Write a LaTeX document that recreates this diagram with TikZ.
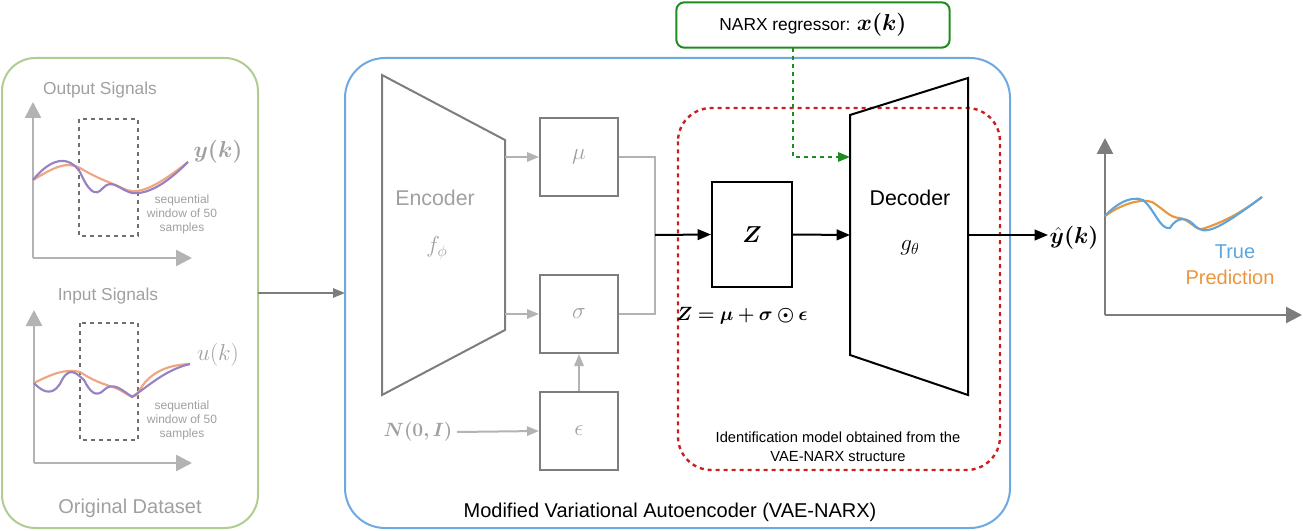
\documentclass[tikz,border=0pt]{standalone}
\usepackage{fontspec}
\setmainfont{Liberation Sans}
\usepackage{amsmath,bm}
\usetikzlibrary{arrows.meta}
\definecolor{gbox}{RGB}{175,205,145}
\definecolor{bbox}{RGB}{110,170,225}
\definecolor{gtx}{RGB}{160,160,160}
\definecolor{blk}{RGB}{125,125,125}
\definecolor{ora}{RGB}{240,165,130}
\definecolor{pur}{RGB}{150,130,195}
\definecolor{ora2}{RGB}{235,150,60}
\definecolor{blu2}{RGB}{95,165,220}
\definecolor{rd}{RGB}{205,30,30}
\definecolor{gr}{RGB}{30,140,30}
\begin{document}
\begin{tikzpicture}[x=0.75pt,y=-0.75pt,
  lbl/.style={font=\fontsize{13}{15}\selectfont,text=gtx},
  small/.style={font=\fontsize{9}{10.5}\selectfont,text=gtx,align=center},
  axis/.style={draw=gtx!80,line width=2pt,-{Triangle[length=12pt,width=12pt]}},
  wbox/.style={draw=blk,line width=1.5pt},
  garr/.style={draw=gtx!80,line width=1.5pt,-{Triangle[length=9pt,width=7pt]}},
  karr/.style={draw=black,line width=1.5pt,-{Triangle[length=10pt,width=8pt]}}]
\useasboundingbox (0,0) rectangle (1303,531);
% green box
\draw[gbox,line width=1.5pt,rounded corners=25pt] (2,58) rectangle (258,528);
\node[lbl] (os) at (100,90) {Output Signals};
\draw[axis] (33,258) -- (33,102);
\draw[axis] (33,258) -- (192,258);
\draw[dashed,blk!90!black,line width=1.5pt] (79,119) rectangle (138,236);
\draw[ora,line width=1.6pt] (33,180) .. controls (50,170) and (65,160) .. (80,168) .. controls (100,180) and (110,182) .. (122,188) .. controls (135,195) and (150,192) .. (188,162);
\draw[pur,line width=1.6pt] (33,180) .. controls (45,165) and (65,150) .. (80,172) .. controls (88,190) and (95,198) .. (103,188) .. controls (112,178) and (120,190) .. (132,193) .. controls (150,195) and (170,180) .. (188,162);
\node[font=\fontsize{16}{18}\selectfont,text=gtx] (yk) at (218,152) {$\bm{y(k)}$};
\node[small] (sw1) at (182,214) {sequential\\window of 50\\samples};
\node[lbl] (is) at (108,296) {Input Signals};
\draw[axis] (34,463) -- (34,310);
\draw[axis] (34,463) -- (192,463);
\draw[dashed,blk!90!black,line width=1.5pt] (80,323) rectangle (138,440);
\draw[ora,line width=1.6pt] (34,383) .. controls (50,375) and (65,368) .. (80,372) .. controls (100,385) and (110,385) .. (120,390) .. controls (128,395) and (132,398) .. (137,395) .. controls (145,378) and (160,365) .. (190,364);
\draw[pur,line width=1.6pt] (34,383) .. controls (45,395) and (55,395) .. (62,380) .. controls (70,365) and (78,375) .. (84,380) .. controls (90,392) and (96,398) .. (104,390) .. controls (112,382) and (120,388) .. (132,397) .. controls (150,385) and (165,370) .. (190,364);
\node[font=\fontsize{16}{18}\selectfont,text=gtx] (uk) at (218,355) {$u(k)$};
\node[small] (sw2) at (182,420) {sequential\\window of 50\\samples};
\node[font=\fontsize{15}{17}\selectfont,text=gtx] (od) at (130,508) {Original Dataset};
% big blue box
\draw[bbox,line width=1.5pt,rounded corners=30pt] (345,58) rectangle (1010,528);
\coordinate (gin) at (258,293);
\coordinate (gout) at (345,293);
\draw[draw=blk,line width=1.5pt,-{Triangle[length=9pt,width=7pt]}] (gin) -- (gout);
% encoder
\draw[wbox] (382,75) -- (505,140) -- (505,330) -- (382,395) -- cycle;
\node[font=\fontsize{16}{18}\selectfont,text=gtx] (enc) at (435,198) {Encoder};
\node[font=\fontsize{17}{19}\selectfont,text=gtx] (fphi) at (437,248) {$f_\phi$};
\node[wbox,minimum width=58.5pt,minimum height=58.5pt,text=gtx,font=\fontsize{17}{19}\selectfont] (mu) at (579,157) {$\mu$};
\node[wbox,minimum width=58.5pt,minimum height=58.5pt,text=gtx,font=\fontsize{17}{19}\selectfont] (sig) at (579,314) {$\sigma$};
\node[wbox,minimum width=58.5pt,minimum height=58.5pt,text=gtx,font=\fontsize{17}{19}\selectfont] (eps) at (579,431) {$\epsilon$};
\draw[garr] (505,157) -- (mu.west);
\draw[garr] (505,314) -- (sig.west);
\node[font=\fontsize{15}{17}\selectfont,text=gtx] (N) at (418,432) {$\bm{N(0,I)}$};
\draw[garr] (N.east) -- (eps.west);
\draw[garr] (eps.north) -- (sig.south);
\coordinate (j) at (655,235);
\draw[gtx!80,line width=1.5pt] (mu.east) -| (j);
\draw[gtx!80,line width=1.5pt] (sig.east) -| (j);
% red dashed
\draw[rd,dashed,line width=1.8pt,rounded corners=25pt] (678,108) rectangle (1000,470);
\node[font=\fontsize{11}{14}\selectfont,align=center] (idm) at (838,447) {Identification model obtained from the\\VAE-NARX structure};
\node[draw=black,line width=1.5pt,minimum width=60pt,minimum height=78.75pt,font=\fontsize{16}{18}\selectfont] (Z) at (752,234.5) {$\bm{Z}$};
\draw[karr] (j) -- (Z.west);
\node[font=\fontsize{15}{17}\selectfont] (zeq) at (742,316) {$\bm{Z=\mu+\sigma\odot\epsilon}$};
% decoder
\draw[black,line width=1.5pt] (850,115) -- (968,78) -- (968,395) -- (850,355) -- cycle;
\node[font=\fontsize{16}{18}\selectfont] (dec) at (910,198) {Decoder};
\node[font=\fontsize{17}{19}\selectfont] (gth) at (910,248) {$g_\theta$};
\coordinate (din) at (850,235);
\draw[karr] (Z.east) -- (din);
\coordinate (dout) at (968,235);
\node[font=\fontsize{16}{18}\selectfont,anchor=west,inner sep=1pt] (yh) at (1048,238) {$\bm{\hat y(k)}$};
\draw[karr] (dout) -- (dout -| yh.west);
% NARX
\node[draw=gr,line width=1.5pt,rounded corners=6pt,minimum width=205pt,minimum height=34pt,font=\fontsize{13}{15}\selectfont] (narx) at (813,25) {NARX regressor: {\fontsize{17}{19}\selectfont$\bm{x(k)}$}};
\coordinate (nin) at (850,157);
\draw[gr,dashed,line width=1.5pt,-{Triangle[length=9pt,width=7pt]}] (793,48) |- (nin);
\node[font=\fontsize{15}{17}\selectfont] (mva) at (670,512) {Modified Variational Autoencoder (VAE-NARX)};
% right plot
\draw[draw=blk,line width=2pt,-{Triangle[length=12pt,width=12pt]}] (1105,315) -- (1105,138);
\draw[draw=blk,line width=2pt,-{Triangle[length=12pt,width=12pt]}] (1105,315) -- (1302,315);
\draw[ora2,line width=1.6pt] (1105,216) .. controls (1120,205) and (1140,198) .. (1152,202) .. controls (1165,210) and (1170,218) .. (1180,218) .. controls (1190,220) and (1195,230) .. (1202,229) .. controls (1225,222) and (1245,210) .. (1262,197);
\draw[blu2,line width=1.6pt] (1105,216) .. controls (1115,205) and (1130,195) .. (1143,200) .. controls (1155,210) and (1160,230) .. (1170,228) .. controls (1178,215) and (1188,218) .. (1195,226) .. controls (1205,235) and (1215,232) .. (1262,197);
\node[font=\fontsize{15}{17}\selectfont,text=blu2] (tr) at (1235,252) {True};
\node[font=\fontsize{15}{17}\selectfont,text=ora2] (pr) at (1230,277) {Prediction};
\end{tikzpicture}
\end{document}
